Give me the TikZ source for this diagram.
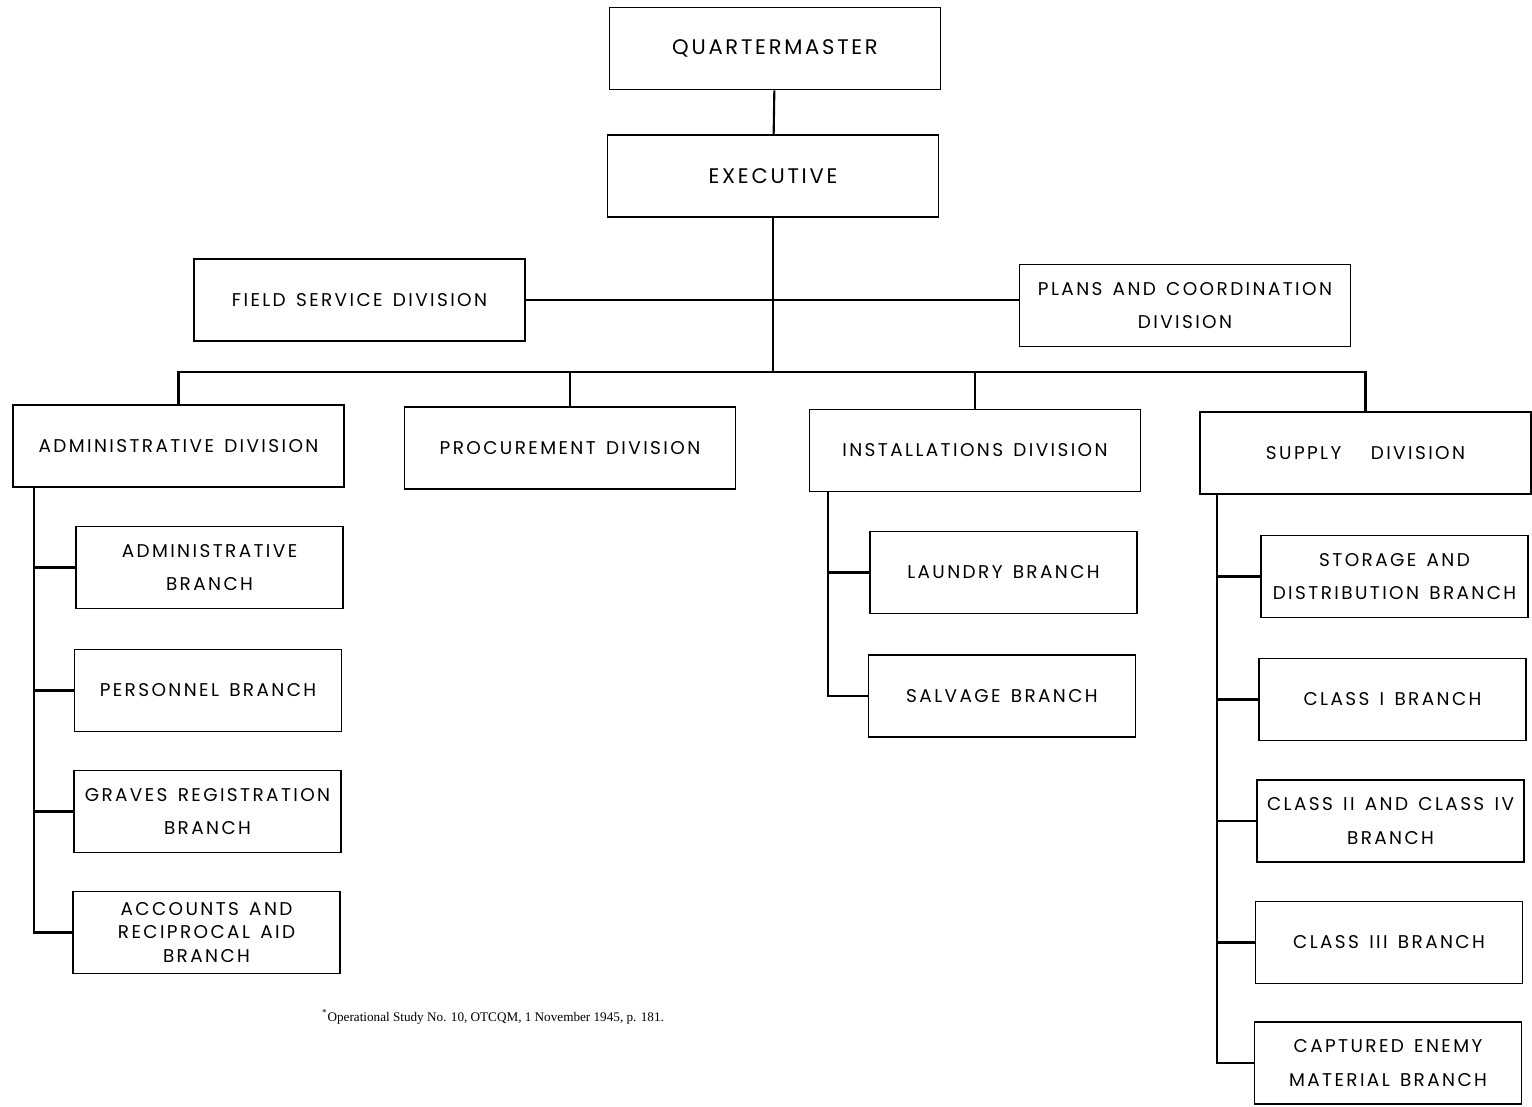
\documentclass[tikz,border=0pt]{standalone}
\usepackage{fontspec}
\setmainfont[LetterSpace=13,WordSpace=1.4]{Poppins}
\newfontfamily\notefont{Liberation Serif}
\usetikzlibrary{positioning}

\begin{document}
\begin{tikzpicture}[x=0.02cm,y=-0.02cm,
  box/.style={draw,line width=0.9pt,minimum width=6.62cm,minimum height=1.64cm,
    align=center,font=\fontsize{10.5}{19}\selectfont,inner sep=1pt},
  brbox/.style={box,minimum width=5.34cm},
  conn/.style={line width=1.2pt}]
\useasboundingbox (0,0) rectangle (1532,1106);

% Top of the chart
\node[box] (qm) at (775,48.5) {\fontsize{12}{14}\selectfont QUARTERMASTER};
\node[box] (exec) at (773,176) {\fontsize{12}{14}\selectfont EXECUTIVE};
\node[box] (fsd) at (359.5,300) {FIELD SERVICE DIVISION};
\node[box] (pcd) at (1185,305.5) {PLANS AND COORDINATION\\DIVISION};
\coordinate (bar) at (773,372);

% Divisions
\node[box] (admdiv) at (178.5,446) {ADMINISTRATIVE DIVISION};
\node[box] (prodiv) at (570,448) {PROCUREMENT DIVISION};
\node[box] (insdiv) at (975,450.5) {INSTALLATIONS DIVISION};
\node[box] (supdiv) at (1365.5,453) {SUPPLY\hspace{1.6em}DIVISION};

% Administrative branches
\node[brbox] (admbr) at (209.5,567.5) {ADMINISTRATIVE\\BRANCH};
\node[brbox] (perbr) at (208,690.5) {PERSONNEL BRANCH};
\node[brbox] (grvbr) at (207.5,811.5) {GRAVES REGISTRATION\\BRANCH};
\node[brbox,font=\fontsize{10.5}{13.5}\selectfont] (accbr) at (206.5,932.5) {ACCOUNTS AND\\RECIPROCAL AID\\BRANCH};

% Installations branches
\node[brbox] (laubr) at (1003.5,572.5) {LAUNDRY BRANCH};
\node[brbox] (salbr) at (1002,696) {SALVAGE BRANCH};

% Supply branches
\node[brbox] (stobr) at (1394.5,576.5) {STORAGE AND\\DISTRIBUTION BRANCH};
\node[brbox] (c1br) at (1392.5,699.5) {CLASS I BRANCH};
\node[brbox] (c2br) at (1390.5,821) {CLASS II AND CLASS IV\\BRANCH};
\node[brbox] (c3br) at (1389,942.5) {CLASS III BRANCH};
\node[brbox] (cembr) at (1388,1063) {CAPTURED ENEMY\\MATERIAL BRANCH};

% Footnote
\node[font=\notefont\fontsize{7.5}{9}\selectfont] (note) at (493,1017)
  {\textsuperscript{*}Operational Study No. 10, OTCQM, 1 November 1945, p. 181.};

% Connectors
\draw[conn] (qm) -- (exec);
\draw[conn] (exec) -- (bar);
\draw[conn] (fsd.east) -- (fsd.east -| pcd.west);
\draw[conn] (admdiv.north) |- (bar) -| (supdiv.north);
\draw[conn] (prodiv.north) -- (prodiv.north |- bar);
\draw[conn] (insdiv.north) -- (insdiv.north |- bar);
\foreach \b in {admbr,perbr,grvbr,accbr}
  \draw[conn] ([xshift=0.44cm]admdiv.south west) |- (\b.west);
\foreach \b in {laubr,salbr}
  \draw[conn] ([xshift=0.38cm]insdiv.south west) |- (\b.west);
\foreach \b in {stobr,c1br,c2br,c3br,cembr}
  \draw[conn] ([xshift=0.36cm]supdiv.south west) |- (\b.west);

\end{tikzpicture}
\end{document}
